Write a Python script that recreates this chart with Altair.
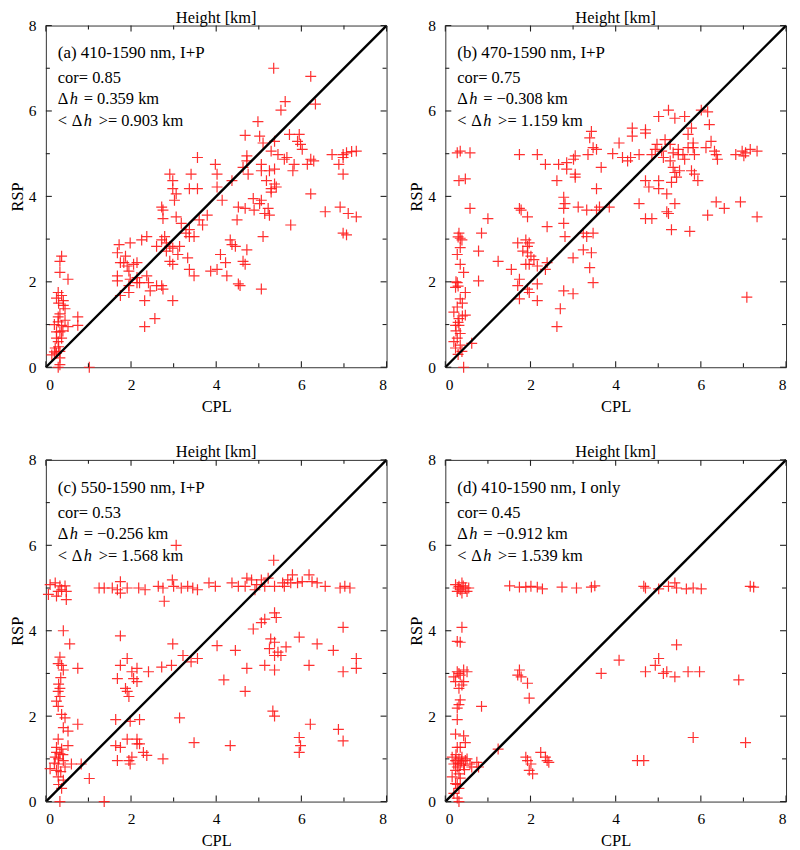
import altair as alt
import pandas as pd

# ---------------- data (CPL, RSP) ----------------
PTS_A = [
    (5.35, 7.0), (6.22, 6.81), (6.33, 6.16), (5.62, 6.22), (5.52, 6.02), (4.98, 5.75),
    (4.68, 5.43), (5.02, 5.41), (5.1, 5.25), (5.37, 5.29), (5.72, 5.45), (5.95, 5.45),
    (5.91, 5.29), (5.98, 5.22), (6.02, 5.1), (5.29, 5.06), (5.45, 4.98), (5.66, 4.91),
    (5.6, 4.87), (5.83, 4.75), (5.8, 4.6), (6.14, 4.75), (6.22, 4.87), (6.29, 4.83),
    (4.72, 4.95), (4.72, 4.83), (4.63, 4.68), (4.75, 4.52), (5.06, 4.75), (5.06, 4.6),
    (5.25, 4.6), (5.37, 4.64), (5.18, 4.37), (5.37, 4.29), (5.29, 4.18), (5.41, 4.22),
    (5.29, 4.1), (3.56, 4.91), (3.98, 4.75), (4.02, 4.52), (3.41, 4.52), (2.91, 4.52),
    (2.98, 4.37), (3.37, 4.18), (3.56, 4.18), (4.02, 4.22), (2.98, 4.18), (3.06, 4.06),
    (3.02, 3.91), (4.14, 3.91), (4.37, 4.37), (2.72, 3.75), (2.75, 3.68), (3.79, 3.56),
    (3.06, 3.52), (2.75, 3.48), (3.6, 3.45), (3.18, 3.37), (3.68, 3.33), (3.37, 3.22),
    (3.29, 3.14), (3.48, 3.06), (3.37, 3.06), (4.52, 3.75), (4.68, 3.72), (4.89, 3.68),
    (5.14, 3.6), (5.22, 3.72), (5.25, 3.56), (5.06, 3.91), (5.02, 3.83), (4.87, 3.95),
    (4.49, 3.45), (5.75, 3.33), (6.56, 3.64), (6.91, 3.75), (7.1, 3.6), (7.29, 3.52),
    (6.98, 3.14), (7.06, 3.1), (6.22, 4.06), (6.72, 4.98), (6.88, 4.75), (6.98, 4.98),
    (7.06, 5.02), (7.18, 5.05), (7.29, 5.06), (6.98, 4.52), (6.98, 4.91), (2.79, 3.06),
    (2.72, 2.98), (2.83, 2.91), (2.83, 2.72), (2.91, 2.83), (2.98, 2.79), (3.14, 2.83),
    (3.1, 2.64), (2.91, 2.48), (2.98, 2.41), (2.98, 1.56), (3.33, 2.56), (3.37, 2.29),
    (3.48, 2.14), (2.37, 3.06), (2.25, 2.98), (2.6, 2.83), (1.98, 2.91), (1.72, 2.87),
    (1.68, 2.68), (1.75, 2.45), (1.87, 2.6), (1.83, 2.45), (1.91, 2.37), (2.06, 2.41),
    (2.14, 2.45), (1.95, 2.25), (1.68, 2.14), (1.68, 2.02), (1.98, 2.06), (2.14, 2.1),
    (2.14, 1.98), (2.37, 2.14), (2.41, 1.98), (2.45, 1.79), (2.32, 1.56), (1.75, 1.68),
    (1.95, 1.75), (2.2, 1.98), (1.95, 1.91), (2.6, 1.91), (2.72, 1.91), (2.75, 1.83),
    (2.32, 0.95), (2.56, 1.14), (4.02, 2.29), (3.87, 2.25), (4.1, 2.64), (4.22, 2.45),
    (4.25, 2.14), (4.37, 2.87), (4.33, 2.98), (4.45, 2.83), (4.72, 2.75), (4.63, 2.48),
    (4.68, 2.41), (4.52, 1.95), (4.56, 1.91), (5.1, 3.06), (5.06, 1.83),
    (0.37, 2.6), (0.33, 2.48), (0.33, 2.22), (0.52, 2.06), (0.29, 1.75), (0.37, 1.68),
    (0.41, 1.56), (0.41, 1.45), (0.45, 1.37), (0.29, 1.18), (0.29, 1.06), (0.37, 0.98),
    (0.52, 0.95), (0.33, 0.83), (0.25, 0.68), (0.22, 0.45), (0.25, 0.33), (0.14, 0.29),
    (0.33, 0.37), (0.33, 0.22), (0.33, 0.06), (0.29, 0.0), (0.75, 1.18), (0.75, 0.98),
    (1.02, 0.0), (0.29, 0.6), (0.33, 1.25), (0.25, 0.83), (0.37, 0.68), (0.25, 1.62),
    (0.3, 1.5), (0.45, 1.1), (0.2, 1.0), (0.4, 0.85), (0.3, 0.48), (0.2, 0.36),
]

PTS_B = [
    (5.24, 6.02), (5.01, 5.87), (5.39, 5.83), (5.62, 5.87), (6.01, 6.02), (6.16, 5.98),
    (6.2, 5.68), (5.78, 5.6), (5.7, 5.45), (6.24, 5.29), (4.39, 5.6), (4.7, 5.56),
    (4.7, 5.48), (4.08, 5.25), (4.39, 5.41), (4.97, 5.22), (5.16, 5.33), (5.28, 5.22),
    (5.47, 5.1), (5.58, 4.98), (5.82, 5.25), (5.82, 5.14), (6.12, 5.14), (6.32, 5.06),
    (6.36, 4.98), (6.39, 4.87), (5.7, 5.14), (5.47, 4.98), (5.35, 5.02), (5.08, 5.06),
    (4.93, 5.1), (4.85, 4.98), (5.12, 4.91), (5.28, 4.83), (5.62, 4.87), (5.85, 4.98),
    (4.55, 4.98), (4.35, 4.91), (4.28, 4.83), (4.16, 4.91), (3.93, 5.0), (3.39, 5.37),
    (3.43, 5.52), (3.47, 5.14), (3.55, 5.1), (3.35, 4.98), (3.05, 4.95), (3.01, 4.87),
    (2.85, 4.79), (2.66, 4.75), (2.85, 4.64), (3.05, 4.52), (3.05, 4.45), (3.66, 4.68),
    (3.55, 4.18), (2.62, 4.37), (2.16, 4.98), (2.35, 4.75), (1.74, 4.98), (1.74, 3.72),
    (1.78, 3.68), (1.93, 3.52), (2.78, 3.98), (2.81, 3.83), (2.78, 3.72), (3.12, 3.75),
    (3.32, 3.68), (3.55, 3.68), (3.62, 3.75), (3.85, 3.75), (2.78, 3.37), (2.81, 3.06),
    (3.24, 3.14), (3.32, 3.06), (3.47, 3.14), (3.24, 2.75), (3.43, 2.68), (3.0, 2.56),
    (3.39, 2.33), (3.47, 1.98), (3.0, 1.72), (2.78, 1.79), (2.7, 1.37), (2.62, 0.95),
    (2.39, 3.29), (2.39, 2.45), (2.35, 2.29), (2.16, 2.37), (2.08, 2.52), (2.01, 2.6),
    (1.93, 2.83), (1.89, 2.98), (1.97, 2.91), (1.82, 2.72), (1.7, 2.91), (1.93, 2.68),
    (1.89, 2.41), (1.97, 2.41), (1.55, 2.29), (1.74, 2.06), (1.7, 1.91), (2.16, 1.95),
    (1.93, 1.83), (1.97, 1.75), (1.74, 1.6), (2.16, 1.56), (1.24, 2.48), (1.0, 3.48),
    (0.85, 3.14), (0.78, 2.72), (0.78, 2.02), (0.58, 3.72), (0.58, 5.02), (0.28, 5.02),
    (0.35, 5.06), (0.32, 4.37), (0.47, 4.41), (0.32, 3.14), (0.35, 3.02), (0.39, 2.98),
    (0.28, 2.64), (0.35, 2.41), (0.43, 2.22), (0.28, 1.98), (0.24, 1.87), (0.47, 1.75),
    (0.35, 1.6), (0.28, 1.41), (0.2, 1.29), (0.47, 1.22), (0.32, 1.14), (0.24, 0.98),
    (0.35, 0.79), (0.28, 0.68), (0.2, 0.6), (0.35, 0.52), (0.62, 0.56), (0.39, 0.37),
    (0.43, 0.0), (0.24, 0.45), (0.32, 0.98), (0.3, 3.05), (0.25, 2.0), (0.3, 1.9),
    (0.4, 1.5), (0.3, 1.05), (0.4, 1.2), (0.25, 0.85), (0.3, 0.3), (0.35, 2.8),
    (4.55, 3.83), (4.7, 3.48), (4.85, 3.48), (4.7, 4.37), (4.78, 4.22), (5.01, 4.37),
    (5.01, 4.18), (5.2, 4.06), (5.35, 4.68), (5.39, 4.56), (5.43, 4.45), (5.31, 4.33),
    (5.5, 4.6), (5.39, 3.83), (5.2, 3.64), (5.24, 3.6), (5.31, 3.22), (5.78, 4.6),
    (5.85, 4.52), (5.93, 4.37), (5.74, 3.18), (6.36, 3.87), (6.55, 3.72), (6.16, 3.56),
    (6.93, 3.87), (7.32, 3.52), (7.08, 1.64), (6.82, 4.98), (6.97, 5.06), (7.05, 5.02),
    (7.16, 5.1), (7.01, 4.95), (7.32, 5.06),
]

PTS_C = [
    (0.1, 5.08), (0.22, 5.12), (0.33, 5.05), (0.29, 4.92), (0.37, 4.96), (0.45, 5.05),
    (0.48, 4.92), (0.06, 4.85), (0.25, 4.81), (0.48, 4.73), (0.41, 4.0), (0.56, 3.69),
    (0.33, 3.38), (0.29, 3.23), (0.37, 3.19), (0.41, 3.08), (0.75, 3.12), (0.33, 2.65),
    (0.29, 2.58), (0.33, 2.46), (0.25, 2.35), (0.29, 2.23), (0.37, 2.04), (0.45, 1.96),
    (0.41, 1.73), (0.52, 1.65), (0.75, 1.81), (0.29, 1.46), (0.25, 1.27), (0.37, 1.23),
    (0.33, 1.12), (0.22, 1.04), (0.41, 0.96), (0.29, 0.88), (0.1, 0.77), (0.25, 0.73),
    (0.45, 0.81), (0.29, 0.58), (0.41, 0.5), (0.52, 1.31), (0.6, 0.88), (0.37, 0.31),
    (0.33, 0.0), (0.83, 0.88), (1.02, 0.54), (1.37, 0.0), (0.3, 1.0), (0.2, 0.9),
    (0.35, 0.7), (0.25, 1.15), (0.4, 1.1), (0.3, 2.75), (0.35, 2.9), (0.3, 0.4),
    (1.25, 5.0), (1.37, 5.0), (1.56, 5.0), (1.68, 4.96), (1.75, 5.15), (1.75, 4.88),
    (1.91, 5.0), (2.18, 5.0), (2.33, 4.96), (2.64, 5.04), (2.75, 5.0), (2.78, 4.69),
    (2.97, 5.19), (3.0, 5.04), (3.18, 5.0), (3.33, 5.04), (3.45, 5.0), (3.56, 4.96),
    (3.83, 5.12), (3.98, 5.04), (4.37, 5.12), (4.52, 5.04), (4.72, 5.23), (4.68, 5.04),
    (4.83, 5.19), (4.95, 5.08), (5.06, 5.19), (5.14, 5.04), (5.22, 5.23), (4.91, 4.96),
    (5.35, 5.65), (5.37, 5.04), (5.6, 5.04), (5.75, 5.12), (5.79, 5.31), (5.91, 5.12),
    (6.02, 5.15), (6.18, 5.31), (6.25, 5.15), (6.37, 5.12), (6.56, 5.04), (6.91, 5.0),
    (7.02, 5.04), (7.14, 5.0), (5.68, 5.19), (5.56, 5.12), (3.06, 6.0),
    (5.14, 4.27), (5.06, 4.19), (4.87, 4.04), (5.37, 4.42), (5.41, 4.31), (5.28, 3.81),
    (5.37, 3.73), (5.25, 3.58), (5.45, 3.5), (5.37, 3.42), (5.52, 3.42), (5.64, 3.62),
    (5.95, 3.85), (6.37, 3.69), (6.75, 3.54), (6.98, 4.08), (7.29, 3.35), (7.29, 3.12),
    (6.98, 3.04), (6.18, 3.19), (5.14, 3.19), (5.37, 3.08), (4.72, 3.12), (4.45, 3.54),
    (4.02, 3.65), (4.18, 2.85), (4.68, 2.58), (3.22, 3.42), (3.41, 3.27), (3.56, 3.35),
    (2.98, 3.69), (2.95, 3.19), (2.72, 3.15), (2.41, 3.04), (2.14, 3.12), (1.91, 3.35),
    (1.75, 3.19), (2.02, 3.04), (2.06, 2.88), (2.14, 2.81), (1.87, 2.65), (1.91, 2.58),
    (1.95, 2.46), (1.75, 3.88), (1.68, 2.88), (3.14, 1.96), (5.33, 2.12), (5.37, 2.0),
    (6.21, 1.81), (6.87, 1.69), (6.98, 1.42), (5.95, 1.5), (5.98, 1.31), (5.95, 1.15),
    (3.48, 1.38), (4.33, 1.31), (1.64, 1.92), (1.98, 1.88), (2.2, 1.92), (1.91, 1.46),
    (1.64, 1.31), (1.75, 1.27), (2.14, 1.46), (2.2, 1.35), (2.29, 1.15), (2.37, 1.08),
    (2.02, 1.04), (1.95, 0.96), (1.98, 0.88), (1.68, 0.96), (2.75, 1.0), (2.14, 1.35),
]

PTS_D = [
    (0.24, 5.08), (0.32, 5.04), (0.35, 4.96), (0.39, 5.12), (0.47, 5.0), (0.51, 4.92),
    (0.28, 4.92), (0.55, 5.0), (0.39, 4.88), (0.3, 5.0), (0.42, 5.05),
    (1.51, 5.05), (1.74, 5.02), (1.89, 5.02), (2.01, 5.04), (2.16, 5.02), (2.28, 4.98),
    (2.74, 5.02), (3.08, 5.0), (3.43, 5.02), (3.51, 5.05), (4.66, 5.04), (4.7, 5.0),
    (5.01, 4.98), (5.24, 5.04), (5.39, 5.12), (5.43, 5.0), (5.66, 4.98), (6.01, 4.98),
    (7.16, 5.04), (7.24, 5.02), (5.82, 5.0),
    (0.39, 4.08), (0.28, 3.75), (0.35, 3.73),
    (0.28, 3.04), (0.32, 3.0), (0.35, 2.96), (0.2, 2.92), (0.43, 3.08), (0.51, 3.04),
    (0.24, 2.81), (0.39, 2.73), (0.32, 2.65), (0.43, 2.81), (0.35, 2.38), (0.32, 2.27),
    (0.28, 2.19), (0.28, 1.92), (0.24, 1.58), (0.43, 1.54), (0.35, 1.27), (0.47, 1.38),
    (0.28, 1.27),
    (0.16, 1.04), (0.24, 0.96), (0.32, 1.0), (0.39, 1.04), (0.47, 0.96), (0.2, 0.88),
    (0.28, 0.81), (0.35, 0.88), (0.43, 0.85), (0.24, 0.73), (0.32, 0.65), (0.51, 1.0),
    (0.58, 0.88), (0.16, 0.58), (0.24, 0.42), (0.32, 0.31), (0.2, 0.19), (0.28, 0.08),
    (0.32, 0.0), (0.62, 0.81), (0.78, 0.81), (0.74, 0.92), (0.3, 0.9), (0.38, 0.95),
    (0.25, 1.1), (0.45, 0.75), (0.35, 0.55), (0.28, 0.4),
    (0.85, 2.23), (1.24, 1.23),
    (1.74, 3.08), (1.7, 2.96), (1.78, 2.92), (1.93, 2.77), (1.97, 2.42),
    (1.89, 1.04), (1.93, 0.96), (2.01, 0.88), (1.97, 0.73), (2.05, 0.65), (2.24, 1.15),
    (2.35, 1.04), (2.39, 0.96), (2.43, 0.92),
    (3.66, 3.0), (4.08, 3.31), (4.7, 3.04), (4.93, 3.19), (5.01, 3.35), (5.12, 3.0),
    (5.2, 3.04), (5.39, 2.92), (5.43, 3.67), (5.7, 3.04), (5.97, 3.04), (6.89, 2.85),
    (4.51, 0.96), (4.66, 0.96), (5.82, 1.5), (7.05, 1.38),
]

DIAG = [0, 8]
TICKS = [0, 1, 2, 3, 4, 5, 6, 7, 8]
MAJOR = [0, 2, 4, 6, 8]
MINOR = [1, 3, 5, 7]

HEADERS = ["(a) 410-1590 nm, I+P", "(b) 470-1590 nm, I+P",
           "(c) 550-1590 nm, I+P", "(d) 410-1590 nm, I only"]
CORS = ["0.85", "0.75", "0.53", "0.45"]
DHS = ["0.359", "\u22120.308", "\u22120.256", "\u22120.912"]
MDHS = ["0.903", "1.159", "1.568", "1.539"]

FONT = "Liberation Serif"
W, H = 342, 343
RED = "#ff1a1a"
TICK_COLOR = "#222222"


def txt(s, x, y, size=16.5, style="normal"):
    return alt.Chart(pd.DataFrame({"t": [s]})).mark_text(
        align="left", baseline="alphabetic", font=FONT, fontSize=size,
        fontStyle=style, color="black"
    ).encode(text="t:N", x=alt.value(x), y=alt.value(y))


LAB = "datum.value % 2 == 0 ? datum.label : ''"
XS = alt.Scale(domain=[0, 8], nice=False)
YS = alt.Scale(domain=[0, 8], nice=False)
XAX = alt.Axis(values=TICKS, labelExpr=LAB, ticks=False, domain=False, grid=False,
               labelPadding=10, titlePadding=6)
YAX = alt.Axis(values=TICKS, labelExpr=LAB, ticks=False, domain=False, grid=False,
               labelPadding=10, titlePadding=3)


def xenc():
    return alt.X("CPL:Q", scale=XS, title="CPL", axis=XAX)


def yenc():
    return alt.Y("RSP:Q", scale=YS, title="RSP", axis=YAX)


def inner_ticks(vals, ln):
    """Inward tick marks on all four sides, placed through the axis scales."""
    dx = pd.DataFrame({"CPL": vals})
    dy = pd.DataFrame({"RSP": vals})
    rule = dict(color=TICK_COLOR, strokeWidth=1.1)
    return [
        alt.Chart(dx).mark_rule(**rule).encode(x=xenc(), y=alt.value(H), y2=alt.value(H - ln)),
        alt.Chart(dx).mark_rule(**rule).encode(x=xenc(), y=alt.value(0), y2=alt.value(ln)),
        alt.Chart(dy).mark_rule(**rule).encode(y=yenc(), x=alt.value(0), x2=alt.value(ln)),
        alt.Chart(dy).mark_rule(**rule).encode(y=yenc(), x=alt.value(W), x2=alt.value(W - ln)),
    ]


def panel(pts, i):
    df = pd.DataFrame(pts, columns=["CPL", "RSP"])
    pts_layer = alt.Chart(df).mark_point(
        shape="M-1,0L1,0M0,-1L0,1", size=120, filled=False,
        strokeWidth=1.2, color=RED, opacity=0.9
    ).encode(x=xenc(), y=yenc())
    diag = alt.Chart(pd.DataFrame({"CPL": DIAG, "RSP": DIAG})).mark_line(
        color="black", strokeWidth=2.4
    ).encode(x=xenc(), y=yenc())
    texts = [
        txt(HEADERS[i], 12, 33, 17),
        txt("cor= " + CORS[i], 12, 58),
        txt("\u0394", 12, 79), txt("h", 24, 79, style="italic"),
        txt("= " + DHS[i] + " km", 38, 79),
        txt("<", 12, 101), txt("\u0394", 26, 101), txt("h", 38, 101, style="italic"),
        txt(">= " + MDHS[i] + " km", 53, 101),
    ]
    layers = [pts_layer, diag] + inner_ticks(MAJOR, 6) + inner_ticks(MINOR, 4) + texts
    return alt.layer(*layers).properties(
        width=W, height=H, title=alt.TitleParams("Height [km]", offset=-8)
    )


row1 = alt.hconcat(panel(PTS_A, 0), panel(PTS_B, 1), spacing=15)
row2 = alt.hconcat(panel(PTS_C, 2), panel(PTS_D, 3), spacing=15)

chart = alt.vconcat(row1, row2, spacing=28).properties(padding=0).configure_view(
    stroke="#333333", strokeWidth=1
).configure_axis(
    labelFont=FONT, titleFont=FONT, labelFontSize=15.5, titleFontSize=16.5,
    titleFontWeight="normal", labelColor="black", titleColor="black"
).configure_title(
    font=FONT, fontSize=16.5, fontWeight="normal", color="black"
)

chart.save("out.html", embed_options={"renderer": "svg", "actions": False})
